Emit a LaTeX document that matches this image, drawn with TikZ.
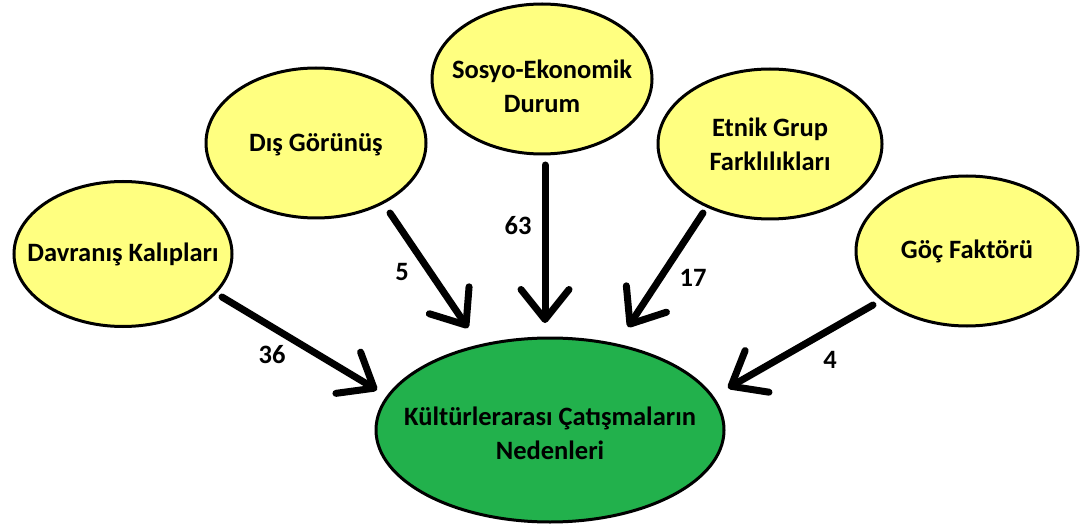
\documentclass[tikz,border=0pt]{standalone}
\usepackage{fontspec}
\setmainfont{Carlito}
\usetikzlibrary{arrows.meta,calc,shapes.geometric}
\definecolor{ylw}{HTML}{FFFF80}
\definecolor{grn}{HTML}{22B14C}
\tikzset{
  txt/.style={font=\bfseries\fontsize{26.5}{34}\selectfont, align=center, text=black},
  yel/.style={ellipse, draw=black, line width=3pt, fill=ylw, inner sep=0pt},
  grnell/.style={ellipse, draw=black, line width=3pt, fill=grn, inner sep=0pt},
  arr/.style={line width=7pt, line cap=round, -{Straight Barb[length=30pt,width=48pt,line width=7pt,line join=round,line cap=round]}},
  num/.style={txt, inner sep=0pt}
}
\begin{document}
\begin{tikzpicture}[x=1pt,y=-1pt]
\useasboundingbox (0,0) rectangle (1081,529);
\node[yel, minimum width=218pt, minimum height=145pt, label={[txt]center:Davranış Kalıpları}] (davr) at (123,254) {};
\node[yel, minimum width=220pt, minimum height=150pt, label={[txt,yshift=-2pt]center:Dış Görünüş}] (dis) at (316,143) {};
\node[yel, minimum width=220pt, minimum height=150pt, label={[txt,yshift=-7pt]center:Sosyo-Ekonomik\\Durum}] (sos) at (542,79) {};
\node[yel, minimum width=224pt, minimum height=150pt, label={[txt]center:Etnik Grup\\Farklılıkları}] (etn) at (770,144) {};
\node[yel, minimum width=222pt, minimum height=150pt, label={[txt]center:Göç Faktörü}] (goc) at (967,251) {};
\node[grnell, minimum width=348pt, minimum height=184pt,
      label={[txt,yshift=-3pt]center:Kültürlerarası Çatışmaların\\Nedenleri}] (cat) at (550,430) {};

\draw[arr] ($(davr.center)+(99,43)$) -- ($(cat.center)+(-173,-40)$);
\draw[arr] ($(dis.center)+(74,70)$) -- ($(cat.center)+(-82,-102)$);
\draw[arr] ($(sos.center)+(3,86)$) -- ($(cat.center)+(-5,-107)$);
\draw[arr] ($(etn.center)+(-67,69)$) -- ($(cat.center)+(78,-103)$);
\draw[arr] ($(goc.center)+(-94,54)$) -- ($(cat.center)+(178,-42)$);

\node[num] (n36) at (272,355) {36};
\node[num] (n5) at (402,272) {5};
\node[num] (n63) at (518,226) {63};
\node[num] (n17) at (693,278) {17};
\node[num] (n4) at (830,360) {4};
\end{tikzpicture}
\end{document}
